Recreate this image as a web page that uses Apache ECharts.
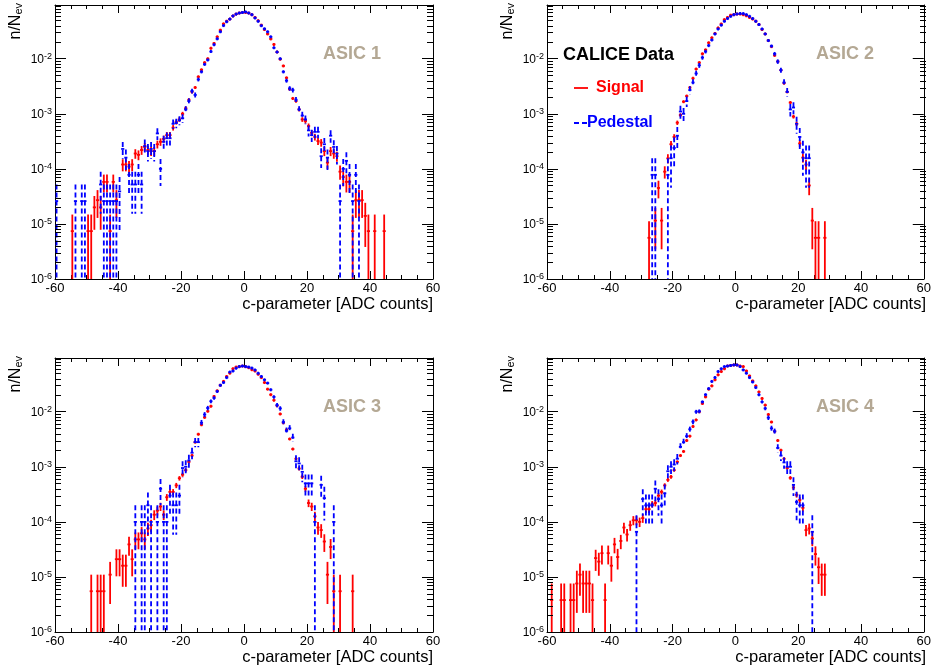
<!DOCTYPE html>
<html><head><meta charset="utf-8">
<script src="https://cdn.jsdelivr.net/npm/echarts@6/dist/echarts.min.js"></script>
<style>html,body{margin:0;padding:0;background:#fff}#c{width:934px;height:671px}</style>
</head><body><div id="c"></div>
<script>
// ---------------- data ----------------
const xTickValues = [-60, -40, -20, 0, 20, 40, 60];
const yDecades = [1e-6, 1e-5, 1e-4, 1e-3, 1e-2];
const yMinorMultipliers = [2, 3, 4, 5, 6, 7, 8, 9];
const panelNames = ['ASIC 1', 'ASIC 2', 'ASIC 3', 'ASIC 4'];
const seriesNames = ['Signal', 'Pedestal'];
// number of events per histogram (sets the statistical error bars)
const nEvSignal = [135000, 178000, 182000, 263000];
const nEvPedestal = [38500, 12800, 10000, 15150];
const binWidth = 1;

// ASIC 1
const sig1Start = -54.5;
const sig1 = [7.4e-6, null, null, null, null, 7.4e-6, 7.4e-6, 2e-5, 2.7e-5, 2e-5,
  5.8e-5, 5.8e-5, 7.4e-6, 5.8e-5, 2.7e-5, null, 1.2e-4, 1.2e-4, 1.1e-4, 1.2e-4,
  1.9e-4, 1.8e-4, 2.2e-4, 2.5e-4, 2.2e-4, 2.1e-4, 2.1e-4, 2.8e-4, 3.1e-4, 3.5e-4,
  4.1e-4, 4.1e-4, 5.6e-4, 7.1e-4, 7.9e-4, 1.0e-3, 1.26e-3, 1.8e-3, 2.5e-3, 3.0e-3,
  4.7e-3, 6.3e-3, 8.5e-3, 0.01, 0.0155, 0.019, 0.025, 0.033, 0.043, 0.048,
  0.0525, 0.06, 0.0646, 0.0676, 0.0692,
  0.0692, 0.0676, 0.0631, 0.0562, 0.049, 0.0407, 0.0339, 0.0282, 0.0229, 0.0182,
  0.0132, 0.0098, 0.0074, 0.0045, 0.0028, 0.0019, 0.0017, 0.0012, 0.00079, 0.00074,
  0.0006, 0.00045, 0.00038, 0.00032, 0.0003, 0.00021, 0.00013, 0.00021, 0.00019, 0.00017,
  8.9e-5, 7.1e-5, 5.8e-5, 5.8e-5, 7.4e-6, 2.7e-5, 2.7e-5, 2.7e-5, 1.4e-5, 7.4e-6,
  null, 7.4e-6, null, null, 7.4e-6];
const ped1Start = -59.5;
const ped1 = [2.6e-5, null, null, null, null, null, 2.6e-5, null, 2.6e-5, 2.6e-5,
  null, null, null, null, 5.2e-5, 2.6e-5, 2.6e-5, 2.6e-5, 2.6e-5, 2.6e-5,
  3.9e-5, 2.3e-4, 1.6e-4, 7.8e-5, 5.2e-5, 5.2e-5, 7.8e-5, 5.2e-5, 2.6e-4, 2.1e-4,
  2.3e-4, 2.1e-4, 4.4e-4, 1.0e-4, 3.1e-4, 3.6e-4, 3.6e-4, 6.6e-4, 6.8e-4, 7.6e-4,
  8.3e-4, 1.2e-3, 1.7e-3, 2.6e-3, 2.2e-3, 4.2e-3, 5.8e-3, 7.9e-3, 0.0095, 0.0135,
  0.018, 0.023, 0.0309, 0.04, 0.047, 0.0525, 0.06, 0.0646, 0.0676, 0.0692,
  0.0708, 0.0676, 0.0631, 0.055, 0.0479, 0.0398, 0.035, 0.0309, 0.025, 0.0158,
  0.0132, 0.01, 0.0058, 0.004, 0.0029, 0.0027, 0.0018, 0.0012, 0.00093, 0.00079,
  0.0005, 0.00041, 0.00047, 0.00047, 0.00017, 0.00028, 0.00016, 0.0004, 0.00025, 0.00019,
  2.6e-5, 1.0e-4, 1.4e-4, 7.8e-5, 2.6e-5, 7.8e-5, 2.6e-5];

// ASIC 2
const sig2Start = -27.5;
const sig2 = [5.6e-6, null, 1.15e-5, 4.5e-5, 1.15e-5, 8.9e-5, 1.55e-4, 2.8e-4, 3.8e-4, 6.9e-4,
  9.5e-4, 1.66e-3, 2.1e-3, 3.0e-3, 4.4e-3, 6.5e-3, 8.5e-3, 0.0123, 0.0145, 0.0195,
  0.024, 0.0288, 0.0363, 0.0427, 0.0513, 0.0562, 0.0617, 0.0631,
  0.0646, 0.0646, 0.0631, 0.0603, 0.0562, 0.0525, 0.0479, 0.0417, 0.0339, 0.0282,
  0.0214, 0.0166, 0.0115, 0.0089, 0.0062, 0.0036, 0.0025, 0.0016, 0.00089, 0.00066,
  0.00029, 0.00016, 0.00012, 5e-5, 1.15e-5, 5.6e-6, 5.6e-6, null, 5.6e-6];
const ped2Start = -26.5;
const ped2 = [7.8e-5, 7.8e-5, null, null, null, 7.8e-5, 1.56e-4, 2.4e-4, 4.0e-4, 1.1e-3,
  1.0e-3, 1.7e-3, 2.7e-3, 3.7e-3, 5.4e-3, 7.6e-3, 0.0105, 0.0135, 0.0174, 0.0219,
  0.0282, 0.0347, 0.0407, 0.0479, 0.0537, 0.0589, 0.0631,
  0.0646, 0.066, 0.066, 0.0631, 0.0589, 0.0537, 0.0479, 0.0417, 0.0347, 0.0282,
  0.0214, 0.017, 0.0123, 0.0089, 0.0062, 0.0037, 0.0025, 0.0012, 0.0013, 0.00066,
  0.00038, 0.0002, 1.56e-4, 1.56e-4];

// ASIC 3
const sig3Start = -48.5;
const sig3 = [5.5e-6, null, 5.5e-6, 5.5e-6, 5.5e-6, null, 1.1e-5, null, 2.1e-5, 2.1e-5,
  1.6e-5, 1.6e-5, 3.9e-5, 2.1e-5, 4.8e-5, 4.8e-5, 6.2e-5, 4.8e-5, 7.6e-5, 8.7e-5,
  1.35e-4, 1.6e-4, 1.9e-4, 1.35e-4, 2.8e-4, 3.5e-4, 3.5e-4, 4.6e-4, 6.2e-4, 7.2e-4,
  8.7e-4, 1.23e-3, 1.6e-3, 2.8e-3, 3.9e-3, 5.8e-3, 7.9e-3, 0.0102, 0.0126, 0.019,
  0.024, 0.0302, 0.0355, 0.0437, 0.0501, 0.0603, 0.0646, 0.066, 0.0676,
  0.066, 0.0631, 0.058, 0.055, 0.048, 0.0417, 0.0339, 0.0257, 0.0204, 0.0162,
  0.0129, 0.0091, 0.0063, 0.0047, 0.0032, 0.0021, 0.0014, 0.00093, 0.00066, 0.0004,
  0.00022, 0.00019, 0.000126, 7.9e-5, 7.1e-5, 4.4e-5, 1.1e-5, 3.5e-5, 5.5e-6, null,
  5.5e-6, null, null, null, 5.5e-6];
const ped3Start = -34.5;
const ped3 = [1e-4, null, 1e-4, 1e-4, 2e-4, 1e-4, null, 1e-4, 4e-4, 1e-4,
  1e-4, 3e-4, 2e-4, 2e-4, 3e-4, 9.5e-4, 1.0e-3, 1.3e-3, 1.8e-3, 2.8e-3,
  2.8e-3, 6.3e-3, 8.9e-3, 0.0117, 0.0155, 0.0178, 0.0234, 0.0302, 0.0339, 0.0417,
  0.0525, 0.055, 0.0617, 0.066, 0.0676,
  0.066, 0.0646, 0.062, 0.0575, 0.05, 0.0437, 0.038, 0.0331, 0.0251, 0.0186,
  0.0132, 0.0115, 0.0065, 0.0045, 0.005, 0.0034, 0.00126, 0.00115, 0.00081, 0.0005,
  0.0005, 0.0005, 1e-4, null, 4.7e-4, 2.7e-4, null, null, 1e-4];

// ASIC 4
const sig4Start = -58.5;
const sig4 = [3.8e-6, null, null, 3.8e-6, 3.8e-6, null, 3.8e-6, 3.8e-6, 7.6e-6, 1.1e-5,
  7.6e-6, 7.6e-6, 7.6e-6, 3.8e-6, 2.2e-5, 1.9e-5, 2.7e-5, 3.8e-6, 2.7e-5, 1.6e-5,
  3.9e-5, 2.3e-5, 4.5e-5, 7.9e-5, 5.9e-5, 8.7e-5, 1.07e-4, 1.07e-4, 1e-4, 1.17e-4,
  1.7e-4, 1.7e-4, 2.1e-4, 2.2e-4, 3.0e-4, 3.5e-4, 4.6e-4, 5.8e-4, 6.6e-4, 8.7e-4,
  1.23e-3, 1.6e-3, 1.9e-3, 3.0e-3, 3.6e-3, 5.4e-3, 7.1e-3, 0.01, 0.0141, 0.0186,
  0.0257, 0.0295, 0.038, 0.0468, 0.0537, 0.0603, 0.0676, 0.0692, 0.0708,
  0.0708, 0.0676, 0.066, 0.055, 0.0447, 0.0363, 0.0295, 0.0229, 0.0174, 0.0132,
  0.0089, 0.0065, 0.0044, 0.003, 0.002, 0.0014, 0.00095, 0.00063, 0.00042, 0.00031,
  0.00025, 0.00018, 7.1e-5, 7.6e-5, 5e-5, 2.6e-5, 1.5e-5, 1.1e-5, 1.1e-5];
const ped4Start = -31.5;
const ped4 = [6.6e-5, null, 2.6e-4, 2e-4, 2e-4, 2e-4, 4e-4, 2.6e-4, 2e-4, 3.3e-4,
  8.3e-4, 1e-3, 1.1e-3, 1.4e-3, 2.3e-3, 2.8e-3, 3.6e-3, 4.8e-3, 6.6e-3, 0.01,
  0.0102, 0.0151, 0.0204, 0.0263, 0.0355, 0.0417, 0.0537, 0.0603, 0.066, 0.0676,
  0.0692, 0.0708,
  0.0708, 0.066, 0.0575, 0.0501, 0.0417, 0.0347, 0.0275, 0.0204, 0.0151, 0.0115,
  0.0078, 0.005, 0.0044, 0.0022, 0.0016, 0.0012, 0.001, 0.001, 0.00047, 0.00023,
  0.0002, 0.0002, null, null, 6.6e-5];

const signalSets = [[sig1Start, sig1], [sig2Start, sig2], [sig3Start, sig3], [sig4Start, sig4]];
const pedestalSets = [[ped1Start, ped1], [ped2Start, ped2], [ped3Start, ped3], [ped4Start, ped4]];

// ---------------- layout / style ----------------
const FONT = '"Liberation Sans", Arial, Helvetica, sans-serif';
const grids = [
  {left: 55, top: 5, width: 378, height: 274},
  {left: 547, top: 5, width: 379, height: 274},
  {left: 55, top: 358, width: 378, height: 274},
  {left: 547, top: 358, width: 379, height: 274}
];
const RED = '#ff0000', BLUE = '#0000ff';

function toItems(set, nEv) {
  const start = set[0], vals = set[1];
  const out = [];
  vals.forEach((v, i) => {
    if (v == null) return;
    const x = start + i * binWidth;
    const err = Math.sqrt(v / nEv);
    out.push([x, v, v - err, v + err]);
  });
  return out;
}

function errRender(color, dashed) {
  return function (params, api) {
    const x = api.value(0), y = api.value(1), lo = api.value(2), hi = api.value(3);
    const cs = params.coordSys;
    const top = cs.y, bottom = cs.y + cs.height;
    const pc = api.coord([x, y]);
    const pl = api.coord([x - binWidth / 2, y]);
    const pr = api.coord([x + binWidth / 2, y]);
    let yHi = api.coord([x, hi])[1];
    let yLo = lo > y * 1e-6 ? api.coord([x, lo])[1] : bottom;
    if (!isFinite(yLo)) yLo = bottom;
    yHi = Math.max(top, Math.min(yHi, pc[1] - 1.5));
    yLo = Math.min(bottom, Math.max(yLo, pc[1] + 1.5));
    const style = {stroke: color, lineWidth: 1.8, lineDash: dashed ? [5, 3] : null, fill: null};
    return {
      type: 'group',
      children: [
        {type: 'line', shape: {x1: pl[0], y1: pc[1], x2: pr[0], y2: pc[1]}, style: style},
        {type: 'line', shape: {x1: pc[0], y1: yHi, x2: pc[0], y2: yLo}, style: style}
      ]
    };
  };
}

const yMinor = [];
yDecades.forEach(d => yMinorMultipliers.forEach(m => yMinor.push(d * m)));

const xAxes = [], yAxes = [], series = [];
grids.forEach((g, i) => {
  const xBase = {
    type: 'value', gridIndex: i, min: -60, max: 60, interval: 20,
    axisLine: {show: true, onZero: false, lineStyle: {color: '#000', width: 1}},
    axisTick: {show: true, inside: true, length: 8, lineStyle: {color: '#000'}},
    minorTick: {show: true, splitNumber: 4, length: 4, lineStyle: {color: '#000'}},
    splitLine: {show: false}
  };
  xAxes.push(Object.assign({}, xBase, {
    position: 'bottom',
    axisLabel: {show: true, margin: 3, fontSize: 13, color: '#000', fontFamily: FONT,
      formatter: v => (xTickValues.indexOf(v) >= 0 ? String(v) : '')}
  }));
  xAxes.push(Object.assign({}, xBase, {position: 'top', axisLabel: {show: false}}));
  const yBase = {
    type: 'log', logBase: 10, gridIndex: i, min: 1e-6, max: 0.0946,
    axisLine: {show: true, onZero: false, lineStyle: {color: '#000', width: 1}},
    axisTick: {show: true, inside: true, length: 11, lineStyle: {color: '#000'}},
    splitLine: {show: false}
  };
  yAxes.push(Object.assign({}, yBase, {
    position: 'left',
    axisLabel: {
      show: true, margin: 3, showMaxLabel: false, fontFamily: FONT, color: '#000',
      formatter: v => {
        const e = Math.round(Math.log10(v));
        if (Math.abs(Math.log10(v) - e) > 0.01) return '';
        return '{b|10}{s|' + e + '}';
      },
      rich: {
        b: {fontSize: 12, lineHeight: 14, verticalAlign: 'bottom', fontFamily: FONT, color: '#000'},
        s: {fontSize: 9, lineHeight: 7, verticalAlign: 'top', fontFamily: FONT, color: '#000'}
      }
    }
  }));
  yAxes.push(Object.assign({}, yBase, {position: 'right', axisLabel: {show: false}}));

  series.push({
    type: 'custom', name: seriesNames[0], xAxisIndex: 2 * i, yAxisIndex: 2 * i,
    renderItem: errRender(RED, false), data: toItems(signalSets[i], nEvSignal[i]),
    silent: true, clip: true, z: 2
  });
  series.push({
    type: 'custom', name: seriesNames[1], xAxisIndex: 2 * i, yAxisIndex: 2 * i,
    renderItem: errRender(BLUE, true), data: toItems(pedestalSets[i], nEvPedestal[i]),
    silent: true, clip: true, z: 3
  });
});

// ---------------- texts ----------------
const graphics = [];
grids.forEach((g, i) => {
  const right = g.left + g.width;
  graphics.push({
    type: 'text', rotation: Math.PI / 2,
    position: [i % 2 === 0 ? 16 : 508, g.top - 2],
    style: {
      text: '{a|n/N}{b|ev}', align: 'right', verticalAlign: 'middle',
      rich: {
        a: {fontSize: 16, lineHeight: 16, verticalAlign: 'top', fontFamily: FONT, fill: '#000'},
        b: {fontSize: 11, lineHeight: 7, verticalAlign: 'bottom', fontFamily: FONT, fill: '#000'}
      }
    }
  });
  graphics.push({
    type: 'text', position: [right, g.top + g.height + 25],
    style: {text: 'c-parameter [ADC counts]', align: 'right', verticalAlign: 'middle',
      fontSize: 16.5, fontFamily: FONT, fill: '#000'}
  });
  graphics.push({
    type: 'text', position: [right - 110, g.top + 49],
    style: {text: panelNames[i], align: 'left', verticalAlign: 'middle',
      fontSize: 18, fontWeight: 'bold', fontFamily: FONT, fill: '#b4a894'}
  });
});
graphics.push({type: 'text', position: [563, 55],
  style: {text: 'CALICE Data', align: 'left', verticalAlign: 'middle', fontSize: 18,
    fontWeight: 'bold', fontFamily: FONT, fill: '#000'}});
graphics.push({type: 'line', shape: {x1: 574, y1: 88, x2: 588, y2: 88},
  style: {stroke: RED, lineWidth: 1.8}});
graphics.push({type: 'text', position: [596, 88],
  style: {text: seriesNames[0], align: 'left', verticalAlign: 'middle', fontSize: 16,
    fontWeight: 'bold', fontFamily: FONT, fill: RED}});
graphics.push({type: 'line', shape: {x1: 574, y1: 123, x2: 588, y2: 123},
  style: {stroke: BLUE, lineWidth: 1.8, lineDash: [5, 3]}});
graphics.push({type: 'text', position: [587, 123],
  style: {text: seriesNames[1], align: 'left', verticalAlign: 'middle', fontSize: 16,
    fontWeight: 'bold', fontFamily: FONT, fill: BLUE}});

const chart = echarts.init(document.getElementById('c'), null, {renderer: 'canvas'});
chart.setOption({
  animation: false,
  backgroundColor: '#fff',
  grid: grids.map(g => Object.assign({containLabel: false, show: false}, g)),
  xAxis: xAxes,
  yAxis: yAxes,
  series: series,
  graphic: graphics
});

// minor log ticks (2..9 x 10^k) on both vertical frame sides, placed with the axis scale
const tickGraphics = [];
grids.forEach((g, i) => {
  yMinor.forEach(v => {
    const p = chart.convertToPixel({xAxisIndex: 2 * i, yAxisIndex: 2 * i}, [0, v]);
    if (!p || !isFinite(p[1])) return;
    const y = Math.round(p[1]) + 0.5;
    tickGraphics.push({type: 'line', silent: true, z: 50,
      shape: {x1: g.left, y1: y, x2: g.left + 6, y2: y}, style: {stroke: '#000', lineWidth: 1}});
    tickGraphics.push({type: 'line', silent: true, z: 50,
      shape: {x1: g.left + g.width - 6, y1: y, x2: g.left + g.width, y2: y}, style: {stroke: '#000', lineWidth: 1}});
  });
});
chart.setOption({graphic: graphics.concat(tickGraphics)});
</script>
</body></html>
